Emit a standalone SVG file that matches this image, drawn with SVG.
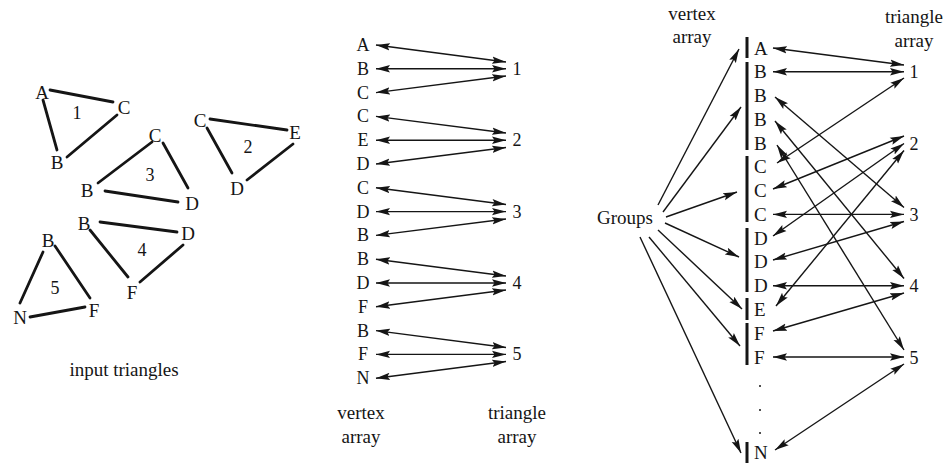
<svg xmlns="http://www.w3.org/2000/svg" width="946" height="466" viewBox="0 0 946 466" font-family="'Liberation Serif', 'Times New Roman', serif">
  <style>
    text { font-family: "Liberation Serif", "Times New Roman", serif; fill: #151515; }
    .lbl { font-size: 19px; text-anchor: middle; }
    .tri-v { font-size: 19px; text-anchor: middle; }
    .tri-n { font-size: 18px; text-anchor: middle; }
    .mid-v { font-size: 18px; text-anchor: middle; }
    .mid-n { font-size: 18px; text-anchor: middle; }
    .rt-v { font-size: 19px; text-anchor: start; }
    .rt-n { font-size: 18px; text-anchor: middle; }
    .edge { stroke: #151515; stroke-width: 2.8; stroke-linecap: round; fill: none; }
    .bar { stroke: #151515; stroke-width: 3; fill: none; }
    .link { stroke: #151515; stroke-width: 1.4; fill: none; marker-start: url(#head); marker-end: url(#head); }
    .one { stroke: #151515; stroke-width: 1.4; fill: none; marker-end: url(#head); }
  </style>
  <defs>
    <marker id="head" markerUnits="userSpaceOnUse" markerWidth="15" markerHeight="9" refX="14" refY="4.5" orient="auto-start-reverse">
      <path d="M0,0.8 L14,4.5 L0,8.2 L2.5,4.5 Z" fill="#151515"/>
    </marker>
  </defs>

  <rect width="946" height="466" fill="#ffffff"/>

  <!-- input triangles -->
  <g id="triangle-1">
    <line class="edge" x1="50" y1="90" x2="113" y2="102"/>
    <line class="edge" x1="43" y1="100" x2="57" y2="150"/>
    <line class="edge" x1="67" y1="157" x2="117" y2="115"/>
    <text class="tri-v" x="42" y="99">A</text>
    <text class="tri-v" x="124" y="114">C</text>
    <text class="tri-v" x="57" y="169">B</text>
    <text class="tri-n" x="77" y="119">1</text>
  </g>
  <g id="triangle-2">
    <line class="edge" x1="210" y1="119" x2="287" y2="130"/>
    <line class="edge" x1="207" y1="128" x2="232" y2="173"/>
    <line class="edge" x1="247" y1="180" x2="293" y2="144"/>
    <text class="tri-v" x="200" y="127">C</text>
    <text class="tri-v" x="295" y="139">E</text>
    <text class="tri-v" x="237" y="195">D</text>
    <text class="tri-n" x="248" y="153">2</text>
  </g>
  <g id="triangle-3">
    <line class="edge" x1="98" y1="183" x2="152" y2="142"/>
    <line class="edge" x1="163" y1="143" x2="188" y2="188"/>
    <line class="edge" x1="105" y1="191" x2="178" y2="202"/>
    <text class="tri-v" x="155" y="142">C</text>
    <text class="tri-v" x="87" y="197">B</text>
    <text class="tri-v" x="192" y="210">D</text>
    <text class="tri-n" x="150" y="181">3</text>
  </g>
  <g id="triangle-4">
    <line class="edge" x1="100" y1="222" x2="177" y2="232"/>
    <line class="edge" x1="90" y1="230" x2="128" y2="277"/>
    <line class="edge" x1="140" y1="282" x2="183" y2="245"/>
    <text class="tri-v" x="84" y="230">B</text>
    <text class="tri-v" x="188" y="240">D</text>
    <text class="tri-v" x="132" y="299">F</text>
    <text class="tri-n" x="142" y="256">4</text>
  </g>
  <g id="triangle-5">
    <line class="edge" x1="43" y1="252" x2="20" y2="303"/>
    <line class="edge" x1="55" y1="246" x2="90" y2="298"/>
    <line class="edge" x1="30" y1="317" x2="85" y2="307"/>
    <text class="tri-v" x="48" y="247">B</text>
    <text class="tri-v" x="20" y="324">N</text>
    <text class="tri-v" x="94" y="317">F</text>
    <text class="tri-n" x="55" y="294">5</text>
  </g>
  <g id="caption-input">
    <text class="lbl" x="124" y="376">input triangles</text>
  </g>

  <!-- middle: vertex array and triangle array -->
  <g id="mid-vertex-array">
    <text class="mid-v" x="363" y="51">A</text>
    <text class="mid-v" x="363" y="74.8">B</text>
    <text class="mid-v" x="363" y="98.6">C</text>
    <text class="mid-v" x="363" y="122.4">C</text>
    <text class="mid-v" x="363" y="146.2">E</text>
    <text class="mid-v" x="363" y="170">D</text>
    <text class="mid-v" x="363" y="193.8">C</text>
    <text class="mid-v" x="363" y="217.6">D</text>
    <text class="mid-v" x="363" y="241.4">B</text>
    <text class="mid-v" x="363" y="265.2">B</text>
    <text class="mid-v" x="363" y="289">D</text>
    <text class="mid-v" x="363" y="312.8">F</text>
    <text class="mid-v" x="363" y="336.6">B</text>
    <text class="mid-v" x="363" y="360.4">F</text>
    <text class="mid-v" x="363" y="384.2">N</text>
  </g>
  <g id="mid-triangle-array">
    <text class="mid-n" x="517" y="74.8">1</text>
    <text class="mid-n" x="517" y="146.2">2</text>
    <text class="mid-n" x="517" y="217.6">3</text>
    <text class="mid-n" x="517" y="289">4</text>
    <text class="mid-n" x="517" y="360.4">5</text>
  </g>
  <g id="mid-captions">
    <text class="lbl" x="361" y="419">vertex</text>
    <text class="lbl" x="361" y="443">array</text>
    <text class="lbl" x="517" y="419">triangle</text>
    <text class="lbl" x="517" y="443">array</text>
  </g>

  <!-- right: groups, grouped vertex array, triangle array -->
  <g id="groups">
    <text x="597" y="224" style="font-size:19px">Groups</text>
  </g>
  <g id="right-captions">
    <text class="lbl" x="692" y="20">vertex</text>
    <text class="lbl" x="692" y="43">array</text>
    <text class="lbl" x="914" y="23">triangle</text>
    <text class="lbl" x="914" y="47">array</text>
  </g>
  <g id="group-bars">
    <line class="bar" x1="747" y1="37" x2="747" y2="58"/>
    <line class="bar" x1="747" y1="62" x2="747" y2="150"/>
    <line class="bar" x1="747" y1="156" x2="747" y2="222"/>
    <line class="bar" x1="747" y1="228" x2="747" y2="292"/>
    <line class="bar" x1="747" y1="298" x2="747" y2="320"/>
    <line class="bar" x1="747" y1="323" x2="747" y2="365"/>
    <line class="bar" x1="747" y1="442" x2="747" y2="463"/>
  </g>
  <g id="right-vertex-array">
    <text class="rt-v" x="754" y="54.5">A</text>
    <text class="rt-v" x="754" y="78.3">B</text>
    <text class="rt-v" x="754" y="102">B</text>
    <text class="rt-v" x="754" y="125.8">B</text>
    <text class="rt-v" x="754" y="149.6">B</text>
    <text class="rt-v" x="754" y="173.4">C</text>
    <text class="rt-v" x="754" y="197.1">C</text>
    <text class="rt-v" x="754" y="220.9">C</text>
    <text class="rt-v" x="754" y="244.7">D</text>
    <text class="rt-v" x="754" y="268.4">D</text>
    <text class="rt-v" x="754" y="292.2">D</text>
    <text class="rt-v" x="754" y="316">E</text>
    <text class="rt-v" x="754" y="339.7">F</text>
    <text class="rt-v" x="754" y="363.5">F</text>
    <circle cx="760" cy="386" r="1" fill="#151515"/>
    <circle cx="760" cy="410" r="1" fill="#151515"/>
    <circle cx="760" cy="433" r="1" fill="#151515"/>
    <text class="rt-v" x="754" y="458.6">N</text>
  </g>
  <g id="right-triangle-array">
    <text class="rt-n" x="914" y="78.3">1</text>
    <text class="rt-n" x="914" y="149.6">2</text>
    <text class="rt-n" x="914" y="220.9">3</text>
    <text class="rt-n" x="914" y="292.2">4</text>
    <text class="rt-n" x="914" y="363.5">5</text>
  </g>

  <g id="connectors">
    <!-- middle: vertex entries to triangles -->
    <line class="link" x1="376" y1="45" x2="506" y2="62"/>
    <line class="link" x1="376" y1="68.8" x2="506" y2="68.8"/>
    <line class="link" x1="376" y1="92.6" x2="506" y2="76"/>
    <line class="link" x1="376" y1="116.4" x2="506" y2="133"/>
    <line class="link" x1="376" y1="140.2" x2="506" y2="140.2"/>
    <line class="link" x1="376" y1="164" x2="506" y2="147.5"/>
    <line class="link" x1="376" y1="187.8" x2="506" y2="204.5"/>
    <line class="link" x1="376" y1="211.6" x2="506" y2="211.6"/>
    <line class="link" x1="376" y1="235.4" x2="506" y2="219"/>
    <line class="link" x1="376" y1="259.2" x2="506" y2="276"/>
    <line class="link" x1="376" y1="283" x2="506" y2="283"/>
    <line class="link" x1="376" y1="306.8" x2="506" y2="290"/>
    <line class="link" x1="376" y1="330.6" x2="506" y2="347.5"/>
    <line class="link" x1="376" y1="354.4" x2="506" y2="354.4"/>
    <line class="link" x1="376" y1="378.2" x2="506" y2="361.5"/>

    <!-- groups to vertex groups -->
    <line class="one" x1="658" y1="205" x2="739" y2="49"/>
    <line class="one" x1="663" y1="212" x2="741" y2="107"/>
    <line class="one" x1="666" y1="217" x2="737" y2="192"/>
    <line class="one" x1="665" y1="223" x2="739" y2="257"/>
    <line class="one" x1="658" y1="230" x2="742" y2="309"/>
    <line class="one" x1="649" y1="237" x2="740" y2="346"/>
    <line class="one" x1="640" y1="237" x2="741" y2="453"/>

    <!-- right: grouped vertex entries to triangles -->
    <line class="link" x1="773" y1="48" x2="904" y2="65"/>
    <line class="link" x1="773" y1="71.8" x2="904" y2="71.8"/>
    <line class="link" x1="777" y1="163" x2="904" y2="78"/>
    <line class="link" x1="773" y1="189" x2="904" y2="136"/>
    <line class="link" x1="773" y1="236" x2="904" y2="143.5"/>
    <line class="link" x1="776" y1="306" x2="904" y2="150.5"/>
    <line class="link" x1="775" y1="97" x2="904" y2="207.5"/>
    <line class="link" x1="773" y1="214.4" x2="904" y2="214.4"/>
    <line class="link" x1="773" y1="260" x2="904" y2="221.5"/>
    <line class="link" x1="775" y1="121" x2="904" y2="278.5"/>
    <line class="link" x1="773" y1="285.7" x2="904" y2="285.7"/>
    <line class="link" x1="773" y1="331" x2="904" y2="293"/>
    <line class="link" x1="777" y1="145" x2="904" y2="350"/>
    <line class="link" x1="773" y1="357" x2="904" y2="357"/>
    <line class="link" x1="775" y1="450" x2="904" y2="364"/>
  </g>
</svg>
